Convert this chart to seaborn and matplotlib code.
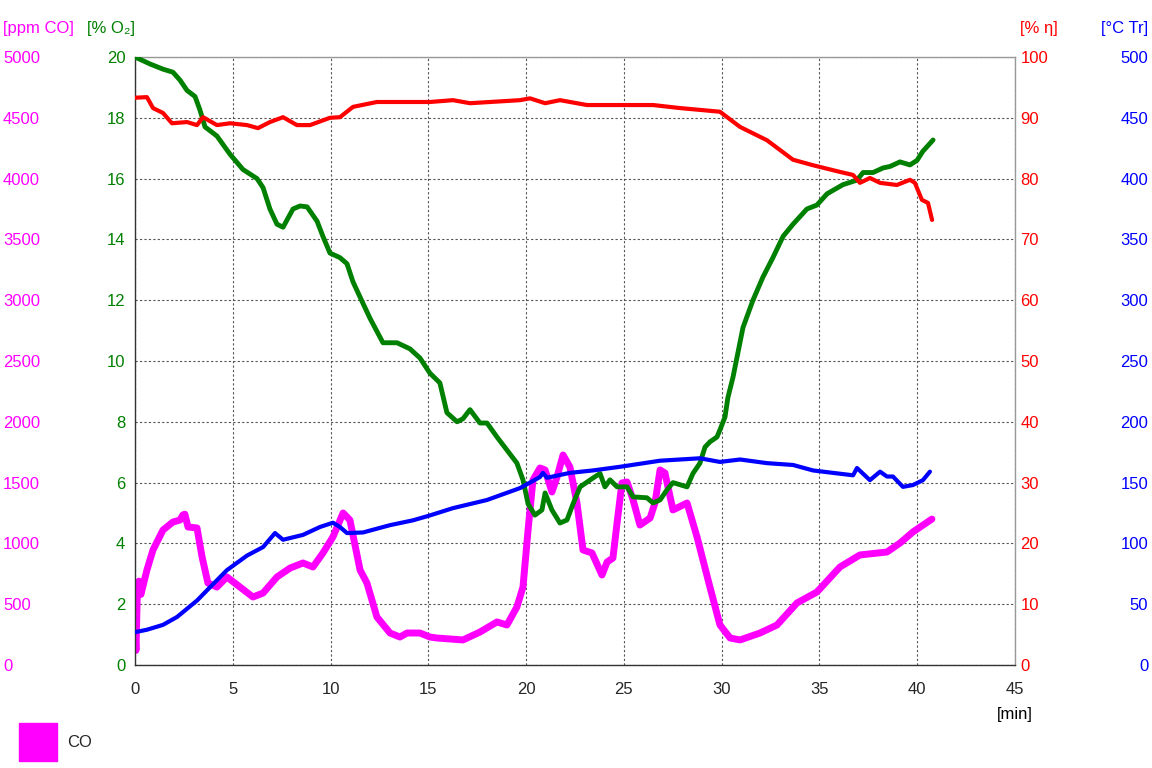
import numpy as np
import pandas as pd
import seaborn as sns
import matplotlib
matplotlib.use("Agg")
import matplotlib.pyplot as plt
from matplotlib.patches import Patch

# CO [ppm]
co_t = [0.0, 0.05, 0.12, 0.2, 0.3, 0.41, 0.61, 0.92, 1.43, 1.94, 2.30, 2.45, 2.55, 2.71, 3.17,
        3.43, 3.73, 4.19, 4.70, 5.37, 6.03, 6.55, 7.26, 7.93, 8.59, 9.10, 9.61, 10.12, 10.64,
        10.99, 11.51, 11.86, 12.37, 13.04, 13.55, 13.91, 14.57, 15.08, 15.44, 16.77, 17.64,
        18.51, 19.02, 19.53, 19.84, 20.10, 20.35, 20.71, 20.97, 21.32, 21.58, 21.89, 22.24,
        22.60, 22.91, 23.37, 23.88, 24.14, 24.44, 24.65, 24.90, 25.16, 25.47, 25.82, 26.34,
        26.59, 26.85, 27.10, 27.51, 28.23, 28.74, 29.40, 29.91, 30.43, 30.94, 31.96, 32.83,
        33.85, 34.87, 36.05, 37.07, 38.45, 39.12, 39.78, 40.75]
co_v = [300, 120, 600, 690, 580, 650, 781, 946, 1110, 1176, 1192, 1234, 1240, 1135, 1127,
        888, 674, 641, 724, 641, 559, 592, 724, 797, 839, 806, 921, 1053, 1250,
        1192, 781, 674, 395, 263, 230, 263, 263, 230, 222, 206, 271,
        354, 329, 477, 641, 1110, 1521, 1620, 1604, 1423, 1546, 1727, 1628,
        1332, 946, 921, 740, 847, 880, 1168, 1497, 1505, 1357, 1151, 1209,
        1332, 1604, 1579, 1275, 1332, 1053, 641, 330, 222, 206, 263, 329,
        510, 600, 806, 905, 929, 1003, 1094, 1200]

# O2 [%]
o2_t = [0.0, 0.77, 1.43, 1.94, 2.30, 2.66, 3.07, 3.32, 3.58, 4.19, 4.86, 5.52, 6.24, 6.55,
        6.90, 7.26, 7.57, 8.08, 8.44, 8.80, 9.31, 9.61, 9.97, 10.48, 10.84, 11.15, 11.51,
        12.02, 12.68, 13.40, 14.06, 14.57, 15.08, 15.59, 15.95, 16.47, 16.77, 17.13, 17.64,
        18.0, 18.51, 19.02, 19.53, 19.84, 20.10, 20.45, 20.81, 20.97, 21.32, 21.73, 22.09,
        22.40, 22.76, 23.42, 23.78, 24.03, 24.29, 24.65, 25.16, 25.47, 26.18, 26.49, 26.85,
        27.20, 27.51, 28.23, 28.53, 28.89, 29.15, 29.40, 29.76, 29.91, 30.17, 30.32, 30.58,
        31.09, 31.60, 32.11, 32.62, 33.14, 33.65, 34.36, 34.87, 35.39, 36.20, 36.92, 37.23,
        37.74, 38.25, 38.61, 39.12, 39.63, 39.99, 40.29, 40.81]
o2_v = [20.0, 19.77, 19.6, 19.5, 19.24, 18.9, 18.7, 18.26, 17.7, 17.4, 16.8, 16.3, 16.0, 15.7,
        15.0, 14.5, 14.4, 15.0, 15.1, 15.07, 14.6, 14.1, 13.55, 13.4, 13.2, 12.6, 12.1,
        11.4, 10.6, 10.6, 10.4, 10.1, 9.6, 9.28, 8.3, 8.0, 8.1, 8.4, 7.96,
        7.96, 7.5, 7.07, 6.64, 6.09, 5.3, 4.93, 5.1, 5.66, 5.1, 4.67, 4.77,
        5.3, 5.86, 6.15, 6.3, 5.86, 6.09, 5.86, 5.86, 5.53, 5.5, 5.33, 5.43,
        5.76, 6.0, 5.86, 6.3, 6.64, 7.17, 7.34, 7.5, 7.73, 8.16, 8.8, 9.47,
        11.1, 12.0, 12.76, 13.4, 14.1, 14.5, 15.0, 15.13, 15.5, 15.8, 15.95, 16.2,
        16.2, 16.35, 16.4, 16.55, 16.45, 16.6, 16.9, 17.27]

# efficiency eta [%]
eta_t = [0.0, 0.61, 0.92, 1.43, 1.89, 2.66, 3.17, 3.48, 4.19, 4.86, 5.73, 6.29, 6.90, 7.57,
         8.28, 8.95, 9.97, 10.48, 11.15, 12.37, 15.08, 16.26, 17.13, 19.69, 20.20, 20.97,
         21.73, 23.11, 24.80, 26.49, 27.87, 28.89, 29.91, 30.94, 32.32, 33.65, 34.67, 36.05,
         36.72, 37.07, 37.58, 38.10, 38.96, 39.63, 39.88, 40.24, 40.55, 40.76]
eta_v = [93.3, 93.4, 91.6, 90.8, 89.1, 89.3, 88.8, 90.1, 88.8, 89.1, 88.8, 88.3, 89.3, 90.1,
         88.8, 88.8, 90.0, 90.1, 91.8, 92.6, 92.6, 92.9, 92.4, 92.9, 93.2, 92.4,
         92.9, 92.1, 92.1, 92.1, 91.6, 91.3, 91.0, 88.5, 86.3, 83.1, 82.2, 81.1,
         80.6, 79.3, 80.1, 79.3, 78.95, 79.8, 79.3, 76.5, 76.0, 73.2]

# temperature Tr [°C]
tr_t = [0.0, 0.61, 1.43, 2.15, 3.17, 3.84, 4.70, 5.73, 6.55, 7.16, 7.57, 8.59, 9.46, 10.12,
        10.48, 10.84, 11.66, 13.04, 14.22, 15.08, 16.26, 18.0, 19.69, 20.71, 20.86, 21.07,
        22.24, 23.42, 24.80, 26.85, 28.89, 29.91, 30.94, 32.32, 33.65, 34.67, 35.69, 36.72,
        36.92, 37.58, 38.10, 38.45, 38.76, 39.27, 39.78, 40.29, 40.65]
tr_v = [27, 29, 33, 39.5, 53, 64, 78, 90, 97, 108.5, 103, 107, 113.5, 117,
        113.5, 108.5, 109, 115, 119, 123, 129, 135.7, 145.5, 154.6, 158, 154,
        158, 160, 163, 168, 170, 167, 169, 166, 164.5, 160, 158, 156,
        162, 152, 159, 155, 155, 146.5, 148, 152, 159]

x_ticks = list(range(0, 50, 5))
co_ticks = list(range(0, 5500, 500))
o2_ticks = list(range(0, 22, 2))
eta_ticks = list(range(0, 110, 10))
tr_ticks = list(range(0, 550, 50))

sns.set_style("white")
plt.rcParams['font.family'] = ['Liberation Sans', 'DejaVu Sans']
plt.rcParams['font.size'] = 12

c_co = '#FF00FF'
c_o2 = '#008000'
c_eta = '#FF0000'
c_tr = '#0000FF'

fig = plt.figure(figsize=(11.52, 7.68), dpi=100)
ax = fig.add_axes([135 / 1152, 103 / 768, 880 / 1152, 608 / 768])
ax_o2 = ax.twinx()
ax_eta = ax.twinx()
ax_tr = ax.twinx()

sns.lineplot(x=co_t, y=co_v, ax=ax, color=c_co, linewidth=5, estimator=None, sort=False)
sns.lineplot(x=o2_t, y=o2_v, ax=ax_o2, color=c_o2, linewidth=3.5, estimator=None, sort=False)
sns.lineplot(x=eta_t, y=eta_v, ax=ax_eta, color=c_eta, linewidth=3, estimator=None, sort=False)
sns.lineplot(x=tr_t, y=tr_v, ax=ax_tr, color=c_tr, linewidth=3, estimator=None, sort=False)

ax.set_xlim(0, 45)
ax.set_xticks(x_ticks)
ax.tick_params(axis='x', length=0, pad=12, labelsize=12)
ax.set_xlabel('')
ax.grid(True, color='#555555', linestyle=(0, (2, 2)), linewidth=0.8)

# CO axis, far left, left aligned labels
ax.set_ylim(0, 5000)
ax.set_yticks(co_ticks)
ax.tick_params(axis='y', length=0, pad=95, labelcolor=c_co, labelsize=12)
plt.setp(ax.get_yticklabels(), ha='left')
ax.set_ylabel('')

# O2 axis, inner left
ax_o2.yaxis.tick_left()
ax_o2.set_ylim(0, 20)
ax_o2.set_yticks(o2_ticks)
ax_o2.tick_params(axis='y', length=0, pad=7, labelcolor=c_o2, labelsize=12)
ax_o2.set_ylabel('')

# efficiency axis, inner right
ax_eta.set_ylim(0, 100)
ax_eta.set_yticks(eta_ticks)
ax_eta.tick_params(axis='y', length=0, pad=4, labelcolor=c_eta, labelsize=12)
ax_eta.set_ylabel('')

# temperature axis, far right, right aligned labels
ax_tr.set_ylim(0, 500)
ax_tr.set_yticks(tr_ticks)
ax_tr.tick_params(axis='y', length=0, pad=96, labelcolor=c_tr, labelsize=12)
plt.setp(ax_tr.get_yticklabels(), ha='right')
ax_tr.set_ylabel('')

for a in (ax_o2, ax_eta, ax_tr):
    for s in a.spines.values():
        s.set_visible(False)
ax.spines['left'].set_color('#333333')
ax.spines['bottom'].set_color('#333333')
ax.spines['top'].set_color('#999999')
ax.spines['right'].set_color('#999999')
for s in ax.spines.values():
    s.set_linewidth(1)

# axis headers
fig.text(3 / 1152, 1 - 28 / 768, '[ppm CO]', color=c_co, ha='left', va='center', fontsize=12)
fig.text(87 / 1152, 1 - 28 / 768, '[% O\u2082]', color=c_o2, ha='left', va='center', fontsize=12)
fig.text(1020 / 1152, 1 - 28 / 768, '[% \u03b7]', color=c_eta, ha='left', va='center', fontsize=12)
fig.text(1148 / 1152, 1 - 28 / 768, '[\u00b0C Tr]', color=c_tr, ha='right', va='center', fontsize=12)
fig.text(1015 / 1152, 1 - 715 / 768, '[min]', color='black', ha='center', va='center', fontsize=12)

ax_tr.legend(handles=[Patch(facecolor=c_co, edgecolor=c_co, label='CO')],
             loc='lower left', bbox_to_anchor=(19 / 1152, 1 - 761 / 768),
             bbox_transform=fig.transFigure, frameon=False, fontsize=12,
             handlelength=2.3, handleheight=3.1, handletextpad=0.6,
             borderpad=0, borderaxespad=0)

fig.savefig('out.png', dpi=100, facecolor='white')
